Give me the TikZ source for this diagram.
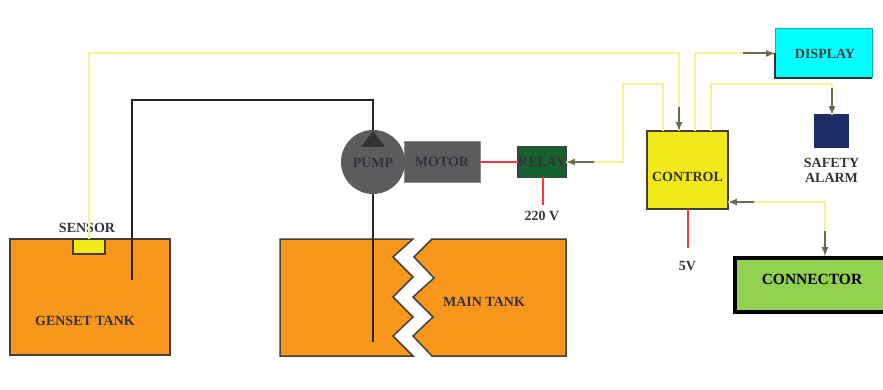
\documentclass[tikz,border=0pt]{standalone}
\usepackage{fontspec}
\setmainfont{Liberation Serif}
\usepackage{tikz}
\usetikzlibrary{positioning}

\definecolor{tankc}{HTML}{F9971D}
\definecolor{ctrlc}{HTML}{F2E81A}
\definecolor{motorc}{HTML}{5C5C5E}
\definecolor{relayc}{HTML}{15622F}
\definecolor{alarmc}{HTML}{1F2D66}
\definecolor{connc}{HTML}{92D14F}
\definecolor{dispc}{HTML}{00FFFF}
\definecolor{wirec}{HTML}{F8F096}
\definecolor{tipc}{HTML}{6A6A52}
\definecolor{redc}{HTML}{FF3540}
\definecolor{labelc}{HTML}{33333A}

\tikzset{
  box/.style = {draw=#1, line width=1.5pt, inner sep=0pt, outer sep=0pt, font=\fontsize{14}{15}\selectfont\bfseries, text=labelc},
  box/.default = {black!75},
  tag/.style = {inner sep=0pt, font=\fontsize{14}{15}\selectfont\bfseries, text=labelc, align=center},
  wire/.style = {wirec, line width=2pt},
  sigtip/.style = {tipc, line width=2pt, ->, >=latex},
  power/.style = {redc, line width=2pt},
  pipe/.style = {black!85, line width=2pt}
}

\begin{document}
\begin{tikzpicture}[x=1pt, y=-1pt, on grid]
  \useasboundingbox (0,0) rectangle (883,390);

  % main tank, in two halves
  \draw[box, fill=tankc] (280,239) -- (413,239) -- (393,257) -- (413,277) -- (393,297) -- (413,317) -- (393,336) -- (413,356) -- (280,356) -- cycle;
  \draw[box, fill=tankc] (432,239) -- (566,239) -- (566,356) -- (432,356) -- (413,336) -- (433,317) -- (413,297) -- (434,278) -- (414,257) -- cycle;
  \node[tag] (main) at (484,302) {MAIN TANK};

  \node[box, fill=tankc, minimum width=160pt, minimum height=116pt] (genset) at (90,297) {};
  \node[box, fill=ctrlc, minimum width=32pt, minimum height=15pt] (sensor) at (89,246.5) {};
  \node[tag] (sensorl) [above=18.5pt of sensor, xshift=-2pt] {SENSOR};
  \node[tag] (gensetl) [below=74.5pt of sensor, xshift=-4pt] {GENSET TANK};

  \node[box, fill=ctrlc, minimum width=81pt, minimum height=78pt, text height=23pt, text depth=0pt] (control) at (687.5,170) {CONTROL};
  \node[box=dispc!70!black, line width=1pt, fill=dispc, minimum width=97pt, minimum height=49pt, text=black!75] (display) [above right=116.5pt and 136pt of control] {\hspace{3pt}DISPLAY};
  \node[box=alarmc, fill=alarmc, minimum width=33pt, minimum height=32pt] (alarm) [above right=39pt and 144pt of control] {};
  \node[tag] (alarml) [below=39.5pt of alarm] {SAFETY\\ALARM};
  \node[box=black, line width=4pt, outer sep=2pt, fill=connc, minimum width=154pt, minimum height=54pt, text=black, font=\fontsize{15.5}{17}\selectfont\bfseries, text depth=12pt] (conn) [below right=115pt and 124.5pt of control] {CONNECTOR};
  \node[box, fill=relayc, minimum width=48pt, minimum height=31pt] (relay) [above left=8pt and 145.5pt of control] {RELAY};
  \node[box=black!45, line width=1pt, fill=motorc, minimum width=76pt, minimum height=41pt] (motor) [left=100pt of relay] {MOTOR};
  \node[circle, fill=motorc, minimum size=64pt, inner sep=0pt, outer sep=0pt, font=\fontsize{14}{15}\selectfont\bfseries, text=labelc, text height=12pt, text depth=0pt] (pump) [left=69pt of motor] {PUMP};
  \node[tag] (volt) [below=53.5pt of relay] {220 V};
  \node[tag] (five) [below=96pt of control] {5V};

  \coordinate (pipea) at (132,280);
  \coordinate (pipeb) at (373,342);
  \coordinate (vend) at (543,205);
  \coordinate (fend) at (687.5,248);

  % fuel pipes
  \draw[pipe] (pipea) |- (373,100) -- (pump.north);
  \draw[pipe] (pump.south) -- (pipeb);
  \fill[black!80] (361,147) -- (385,147) -- (373,131) -- cycle;

  % power
  \draw[power] (motor.east) -- (relay.west);
  \draw[power] ([xshift=1pt]relay.south) -- (vend);
  \draw[power] (control.south) -- (fend);

  % signal wires
  \draw[wire] (sensor.north) -- (89,53) -| ([xshift=-8.5pt]control.north);
  \draw[wire] ([xshift=7.5pt]control.north) -- (695,53.5) -- (display.west);
  \draw[wire] ([xshift=23.5pt]control.north) -- (711,84) -- (832,84) -- ([xshift=.5pt]alarm.north);
  \draw[wire] ([xshift=-24.5pt]control.north) -- (663,84) -- (623,84) -- (623,162) -- (relay.east);
  \draw[wire] ([yshift=-32pt]control.east) -- (825,202) -- ([xshift=13pt]conn.north);

  \draw[sigtip] (679,107) -- ([xshift=-8.5pt]control.north);
  \draw[sigtip] (743,53.5) -- (display.west);
  \draw[sigtip] (832,88) -- ([xshift=.5pt]alarm.north);
  \draw[sigtip] (594,162) -- (relay.east);
  \draw[sigtip] (754,202) -- ([yshift=-32pt]control.east);
  \draw[sigtip] (825,231) -- ([xshift=13pt]conn.north);

  \draw[black!80, line width=1.2pt] (display.west) -- (display.south west) -- (display.south east);
\end{tikzpicture}
\end{document}
